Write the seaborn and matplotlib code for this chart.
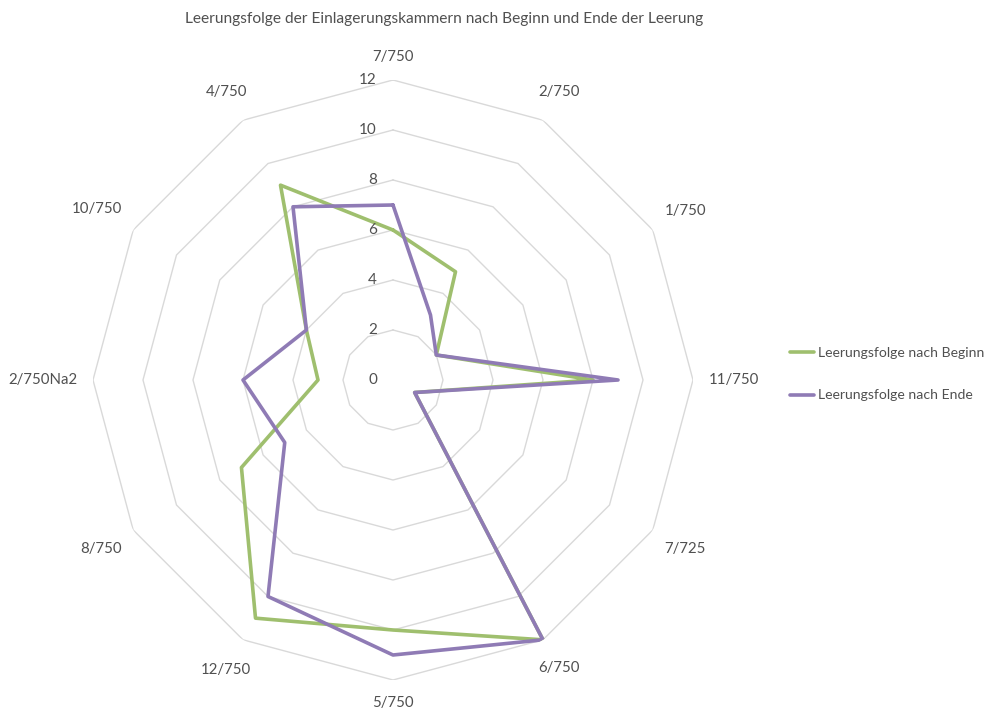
import numpy as np
import pandas as pd
import matplotlib
matplotlib.use("Agg")
import matplotlib.pyplot as plt
import matplotlib.transforms as mtransforms
from matplotlib.lines import Line2D
import seaborn as sns

# Chambers, clockwise from the top
categories = ["7/750", "2/750", "1/750", "11/750", "7/725", "6/750",
              "5/750", "12/750", "8/750", "2/750Na2", "10/750", "4/750"]
beginn = [6, 5, 2, 8, 1, 12, 10, 11, 7, 3, 4, 9]
ende = [7, 3, 2, 9, 1, 12, 11, 10, 5, 6, 4, 8]
series_names = ["Leerungsfolge nach Beginn", "Leerungsfolge nach Ende"]
radial_ticks = [0, 2, 4, 6, 8, 10, 12]
title = "Leerungsfolge der Einlagerungskammern nach Beginn und Ende der Leerung"

colors = ["#9fbf6e", "#8f7bb5"]
grid_color = "#d9d9d9"
text_color = "#505050"

sns.set_theme(style="white")
plt.rcParams["font.family"] = ["Lato", "DejaVu Sans"]

n = len(categories)
theta = np.arange(n) * 2 * np.pi / n
theta_closed = np.append(theta, theta[0])

rows = []
for name, vals in zip(series_names, [beginn, ende]):
    closed = list(vals) + [vals[0]]
    for i, (t, v) in enumerate(zip(theta_closed, closed)):
        rows.append({"series": name, "order": i, "theta": t, "value": v})
df = pd.DataFrame(rows)

fig = plt.figure(figsize=(10.01, 7.15), dpi=100)
radius_px = 300
ax = fig.add_axes([93 / 1001, 35 / 715, 2 * radius_px / 1001, 2 * radius_px / 715],
                  projection="polar")
ax.set_theta_zero_location("N")
ax.set_theta_direction(-1)
ax.set_ylim(0, 12)
ax.grid(False)
ax.spines["polar"].set_visible(False)
ax.set_xticks([])
ax.set_yticks([])

# Polygonal grid rings
for r in radial_ticks[1:]:
    ax.plot(theta_closed, [r] * (n + 1), color=grid_color, lw=1.0, zorder=1)

sns.lineplot(data=df, x="theta", y="value", hue="series", hue_order=series_names,
             palette=colors, sort=False, estimator=None, units="series",
             linewidth=2.6, legend=False, ax=ax, zorder=3)
ax.set_xlabel("")
ax.set_ylabel("")
ax.set_ylim(0, 12)

# Radial value labels to the left of the top axis
off = mtransforms.offset_copy(ax.transData, fig=fig, x=-16, y=0, units="dots")
for r in radial_ticks:
    ax.text(0, r, str(r), transform=off, ha="right", va="center",
            fontsize=11, color=text_color, clip_on=False)

# Category labels around the outside, pushed out by their own extent
cat_texts = [ax.text(t, 13.0, lab, ha="center", va="center", fontsize=10.8,
                     color=text_color, clip_on=False)
             for t, lab in zip(theta, categories)]

fig.text(444 / 1001, 1 - 19 / 715, title, ha="center", va="center",
         fontsize=11.2, color=text_color)

handles = [Line2D([0], [0], color=c, lw=2.6) for c in colors]
fig.legend(handles, series_names, loc="center left",
           bbox_to_anchor=(777 / 1001, 1 - 374 / 715), frameon=False,
           fontsize=10.1, handlelength=1.75, handletextpad=0.3,
           labelspacing=2.2, labelcolor=text_color)

fig.canvas.draw()
renderer = fig.canvas.get_renderer()
units_per_px = 12 / radius_px
anchor_px = 316
for t, txt in zip(theta, cat_texts):
    bb = txt.get_window_extent(renderer)
    d = anchor_px + bb.width / 2 * abs(np.sin(t)) + bb.height / 2 * abs(np.cos(t))
    txt.set_position((t, d * units_per_px))

fig.savefig("out.png", dpi=100, facecolor="white")
